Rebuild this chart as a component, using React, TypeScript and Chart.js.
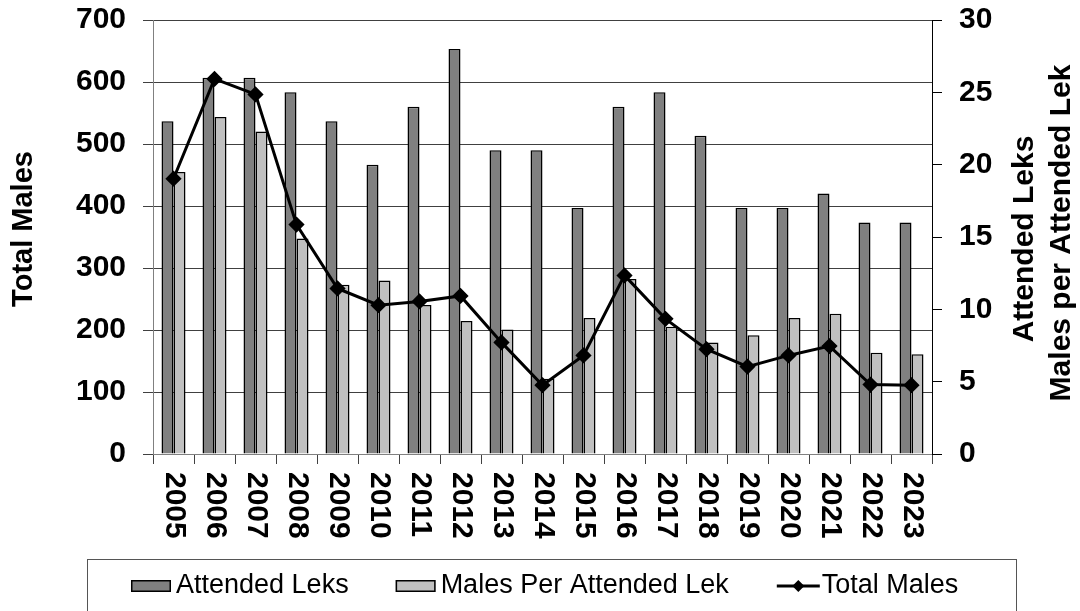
import React, { useEffect, useRef } from 'react';
import { Chart, registerables } from 'chart.js';

Chart.register(...registerables);

const years = ['2005', '2006', '2007', '2008', '2009', '2010', '2011', '2012', '2013', '2014', '2015', '2016', '2017', '2018', '2019', '2020', '2021', '2022', '2023'];
const attendedLeks = [23, 26, 26, 25, 23, 20, 24, 28, 21, 21, 17, 24, 25, 22, 17, 17, 18, 16, 16];
const malesPerLek = [19.5, 23.3, 22.3, 14.9, 11.7, 12.0, 10.3, 9.2, 8.6, 5.2, 9.4, 12.1, 8.8, 7.7, 8.2, 9.4, 9.7, 7.0, 6.9];
const totalMales = [444, 605, 580, 370, 267, 240, 246, 255, 180, 111, 159, 288, 218, 169, 141, 159, 174, 112, 111];

const leftMax = 700;
const leftStep = 100;
const rightMax = 30;
const rightStep = 5;

const leftTitle = 'Total Males';
const rightTitleLines = ['Attended Leks', 'Males per Attended Lek'];
const legendLabels = ['Attended Leks', 'Males Per Attended Lek', 'Total Males'];

const FONT = '"Liberation Sans", Arial, Helvetica, sans-serif';
const DARK = '#808080';
const LIGHT = '#c0c0c0';

const overlayPlugin = {
  id: 'overlay',
  afterDraw(chart: any) {
    const ctx: CanvasRenderingContext2D = chart.ctx;
    const xs = chart.scales.x;
    ctx.save();
    ctx.fillStyle = '#000';

    // x tick labels, rotated +90 (reading top to bottom)
    ctx.font = `bold 30px ${FONT}`;
    ctx.textAlign = 'left';
    ctx.textBaseline = 'middle';
    years.forEach((y, i) => {
      const px = xs.getPixelForValue(i);
      ctx.save();
      ctx.translate(px + 1, 472);
      ctx.rotate(Math.PI / 2);
      ctx.fillText(y, 0, 0);
      ctx.restore();
    });

    // left title
    ctx.font = `bold 29px ${FONT}`;
    ctx.textAlign = 'center';
    ctx.save();
    ctx.translate(24, 229);
    ctx.rotate(-Math.PI / 2);
    ctx.fillText(leftTitle, 0, 0);
    ctx.restore();

    // right title (two lines, reading bottom to top)
    ctx.font = `bold 30px ${FONT}`;
    const rx = [1025, 1062];
    const ry = [239, 233];
    rightTitleLines.forEach((t, i) => {
      ctx.save();
      ctx.translate(rx[i], ry[i]);
      ctx.rotate(-Math.PI / 2);
      ctx.fillText(t, 0, 0);
      ctx.restore();
    });

    // legend box
    ctx.strokeStyle = '#555';
    ctx.lineWidth = 1;
    ctx.strokeRect(87.5, 559.5, 929, 100);

    ctx.font = `27px ${FONT}`;
    ctx.textAlign = 'left';
    ctx.textBaseline = 'middle';
    const cy = 586;
    let x = 131;
    // item 1
    ctx.fillStyle = DARK;
    ctx.fillRect(x, cy - 6, 40, 12);
    ctx.strokeStyle = '#000';
    ctx.lineWidth = 1.5;
    ctx.strokeRect(x + 0.75, cy - 5.25, 38.5, 10.5);
    x += 45;
    ctx.fillStyle = '#000';
    ctx.fillText(legendLabels[0], x, cy);
    x += ctx.measureText(legendLabels[0]).width + 47;
    // item 2
    ctx.fillStyle = LIGHT;
    ctx.fillRect(x, cy - 6, 40, 12);
    ctx.strokeRect(x + 0.75, cy - 5.25, 38.5, 10.5);
    x += 45;
    ctx.fillStyle = '#000';
    ctx.fillText(legendLabels[1], x, cy);
    x += ctx.measureText(legendLabels[1]).width + 48;
    // item 3 (line with diamond)
    ctx.strokeStyle = '#000';
    ctx.lineWidth = 3;
    ctx.beginPath();
    ctx.moveTo(x, cy);
    ctx.lineTo(x + 43, cy);
    ctx.stroke();
    const dx = x + 21.5;
    ctx.beginPath();
    ctx.moveTo(dx, cy - 6);
    ctx.lineTo(dx + 6, cy);
    ctx.lineTo(dx, cy + 6);
    ctx.lineTo(dx - 6, cy);
    ctx.closePath();
    ctx.fill();
    x += 45;
    ctx.fillText(legendLabels[2], x, cy);

    ctx.restore();
  },
};

const noPad = (s: any) => {
  s.paddingTop = 0;
  s.paddingBottom = 0;
  s.paddingLeft = 0;
  s.paddingRight = 0;
};

export default function App() {
  const canvasRef = useRef<HTMLCanvasElement | null>(null);

  useEffect(() => {
    document.body.style.margin = '0';
    document.body.style.overflow = 'hidden';
    const canvas = canvasRef.current;
    if (!canvas) return;
    Chart.defaults.font.family = FONT;
    const chart = new Chart(canvas, {
      type: 'bar',
      data: {
        labels: years,
        datasets: [
          {
            type: 'bar',
            label: legendLabels[0],
            data: attendedLeks,
            yAxisID: 'y1',
            backgroundColor: DARK,
            borderColor: '#000',
            borderWidth: 1.5,
            categoryPercentage: 0.585,
            barPercentage: 1.0,
            order: 1,
          },
          {
            type: 'bar',
            label: legendLabels[1],
            data: malesPerLek,
            yAxisID: 'y1',
            backgroundColor: LIGHT,
            borderColor: '#000',
            borderWidth: 1.5,
            categoryPercentage: 0.585,
            barPercentage: 1.0,
            order: 2,
          },
          {
            type: 'line',
            label: legendLabels[2],
            data: totalMales,
            yAxisID: 'y',
            borderColor: '#000',
            backgroundColor: '#000',
            borderWidth: 3,
            pointStyle: 'rectRot',
            pointRadius: 6,
            pointBackgroundColor: '#000',
            pointBorderColor: '#000',
            tension: 0,
            fill: false,
            order: 0,
          },
        ],
      } as any,
      options: {
        responsive: true,
        maintainAspectRatio: false,
        animation: false,
        layout: { padding: { top: 20, left: 0, right: 0, bottom: 0 } },
        plugins: {
          legend: { display: false },
          tooltip: { enabled: false },
        },
        scales: {
          x: {
            type: 'category',
            offset: true,
            grid: {
              offset: true,
              drawOnChartArea: false,
              drawTicks: true,
              tickLength: 10,
              color: '#404040',
            },
            border: { display: true, color: '#808080', width: 1 },
            ticks: { display: false },
            afterFit: (s: any) => {
              s.height = 157;
              noPad(s);
            },
          },
          y: {
            position: 'left',
            min: 0,
            max: leftMax,
            ticks: {
              stepSize: leftStep,
              color: '#000',
              font: { size: 30, weight: 'bold', family: FONT },
              padding: 17,
            },
            grid: {
              color: '#404040',
              drawTicks: true,
              tickLength: 10,
            },
            border: { display: true, color: '#808080', width: 1 },
            afterFit: (s: any) => {
              s.width = 153;
              noPad(s);
            },
          },
          y1: {
            position: 'right',
            min: 0,
            max: rightMax,
            ticks: {
              stepSize: rightStep,
              color: '#000',
              font: { size: 30, weight: 'bold', family: FONT },
              padding: 17,
            },
            grid: {
              drawOnChartArea: false,
              drawTicks: true,
              tickLength: 10,
              color: '#000',
            },
            border: { display: true, color: '#000', width: 1 },
            afterFit: (s: any) => {
              s.width = 148;
              noPad(s);
            },
          },
        },
      } as any,
      plugins: [overlayPlugin],
    });
    return () => {
      chart.destroy();
    };
  }, []);

  return (
    <div style={{ position: 'relative', width: '1080px', height: '611px' }}>
      <canvas ref={canvasRef} />
    </div>
  );
}
